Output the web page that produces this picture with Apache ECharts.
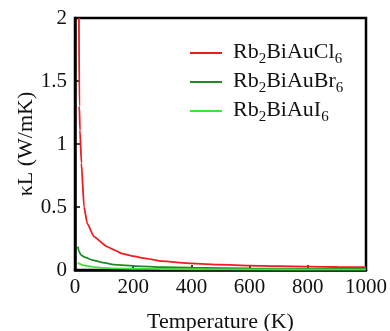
<!DOCTYPE html>
<html>
<head>
<meta charset="utf-8">
<script src="https://cdn.jsdelivr.net/npm/echarts@6/dist/echarts.min.js"></script>
<style>html,body{margin:0;padding:0;background:#fff}#c{width:390px;height:331px}</style>
</head>
<body>
<div id="c"></div>
<script>
var seriesNames = ['Rb2BiAuCl6', 'Rb2BiAuBr6', 'Rb2BiAuI6'];
var legendRich = ['{f|Rb}{s|2}{n|BiAuCl}{s|6}', '{f|Rb}{s|2}{n|BiAuBr}{s|6}', '{f|Rb}{s|2}{n|BiAuI}{s|6}'];
var xTicks = [0, 200, 400, 600, 800, 1000];
var yTicks = [0, 0.5, 1, 1.5, 2];

var clT = [13.5, 15, 17, 22, 31, 42, 65, 110, 134, 162, 200, 236, 300, 400, 500, 600, 700, 800, 900, 1000];
var clV = [2.0, 1.3, 1.11, 0.85, 0.5, 0.37, 0.265, 0.185, 0.16, 0.13, 0.11, 0.095, 0.07, 0.052, 0.042, 0.035, 0.03, 0.027, 0.024, 0.022];

var brT = [10, 13, 20, 35, 60, 97, 134, 212, 300, 400, 600, 800, 1000];
var brV = [0.185, 0.15, 0.12, 0.1, 0.078, 0.058, 0.042, 0.03, 0.022, 0.018, 0.013, 0.01, 0.009];

var iT = [10, 15, 25, 40, 60, 97, 134, 200, 300, 500, 1000];
var iV = [0.058, 0.05, 0.04, 0.032, 0.025, 0.017, 0.013, 0.01, 0.007, 0.005, 0.003];

var colors = ['#ee1c1c', '#1d8a22', '#3ee23a'];

function pairs(t, v) { return t.map(function (x, i) { return [x, v[i]]; }); }

var FONT = 'Liberation Serif';
var chart = echarts.init(document.getElementById('c'));
chart.setOption({
  animation: false,
  grid: { left: 75, right: 24, top: 18, bottom: 61, show: true, borderColor: '#000', borderWidth: 2.5, backgroundColor: 'transparent', containLabel: false, outerBoundsMode: 'none' },
  legend: {
    orient: 'vertical', left: 185, top: 36, itemWidth: 32, itemHeight: 2, itemGap: 3, icon: 'rect',
    data: seriesNames,
    formatter: function (name) { return legendRich[seriesNames.indexOf(name)]; },
    textStyle: {
      rich: {
        f: { fontFamily: FONT, fontSize: 22, color: '#111', lineHeight: 24, verticalAlign: 'top', padding: [0, 0, 0, 6] },
        n: { fontFamily: FONT, fontSize: 22, color: '#111', lineHeight: 24, verticalAlign: 'top' },
        s: { fontFamily: FONT, fontSize: 15, color: '#111', lineHeight: 15, verticalAlign: 'top', padding: [11, 0, 0, 0] }
      }
    }
  },
  xAxis: {
    type: 'value', min: 0, max: 1000, interval: 200,
    name: 'Temperature (K)', nameLocation: 'middle', nameGap: 41,
    nameTextStyle: { fontFamily: FONT, fontSize: 22, color: '#111' },
    axisLine: { show: true, lineStyle: { color: '#000', width: 2.5 } },
    axisTick: { show: true, inside: true, length: 5, lineStyle: { color: '#000', width: 1.5 } },
    axisLabel: { fontFamily: FONT, fontSize: 21, color: '#111', margin: 7,
      formatter: function (v) { return xTicks.indexOf(v) >= 0 ? String(v) : ''; } },
    splitLine: { show: false }
  },
  yAxis: {
    type: 'value', min: 0, max: 2, interval: 0.5,
    name: 'κL (W/mK)', nameLocation: 'middle', nameGap: 38, nameMoveOverlap: false,
    nameTextStyle: { fontFamily: FONT, fontSize: 22, color: '#111' },
    axisLine: { show: true, lineStyle: { color: '#000', width: 2.5 } },
    axisTick: { show: true, inside: true, length: 5, lineStyle: { color: '#000', width: 1.5 } },
    axisLabel: { fontFamily: FONT, fontSize: 21, color: '#111', margin: 8,
      formatter: function (v) { return yTicks.indexOf(v) >= 0 ? String(v) : ''; } },
    splitLine: { show: false }
  },
  series: [
    { name: seriesNames[0], type: 'line', data: pairs(clT, clV), symbol: 'none', smooth: 0.15, smoothMonotone: 'x', lineStyle: { color: colors[0], width: 1.8 }, itemStyle: { color: colors[0] }, clip: true },
    { name: seriesNames[1], type: 'line', data: pairs(brT, brV), symbol: 'none', smooth: 0.15, smoothMonotone: 'x', lineStyle: { color: colors[1], width: 1.8 }, itemStyle: { color: colors[1] }, clip: true },
    { name: seriesNames[2], type: 'line', data: pairs(iT, iV), symbol: 'none', smooth: 0.15, smoothMonotone: 'x', lineStyle: { color: colors[2], width: 1.8 }, itemStyle: { color: colors[2] }, clip: true }
  ]
});
</script>
</body>
</html>
